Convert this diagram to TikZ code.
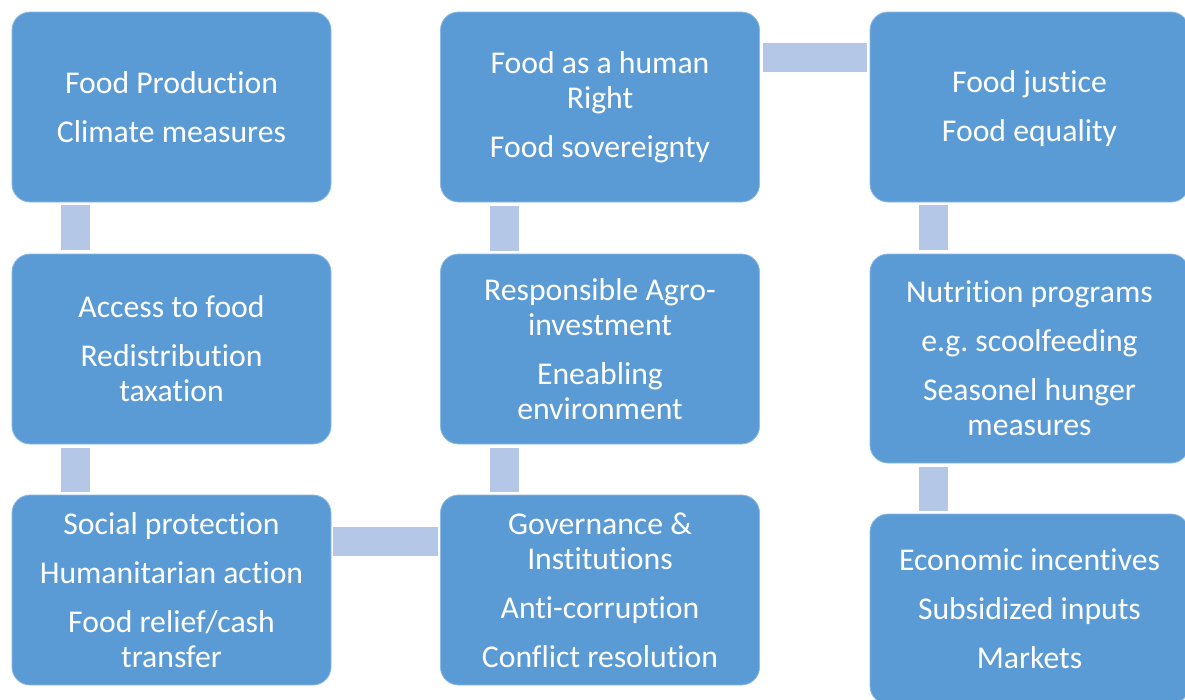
\documentclass[tikz,border=0pt]{standalone}
\usepackage{fontspec}
\setmainfont{Carlito}[Ligatures=NoCommon]
\frenchspacing
\definecolor{boxblue}{HTML}{5B9BD5}
\definecolor{connblue}{HTML}{B4C7E7}
\begin{document}
\begin{tikzpicture}[x=1pt,y=-1pt,
  box/.style={rectangle, rounded corners=18pt, fill=boxblue, draw=boxblue!70!white, line width=0.8pt,
    minimum width=319pt, minimum height=190pt, inner sep=0pt, align=center, text=white,
    font=\fontsize{31.7}{35}\selectfont},
  conn/.style={draw=connblue, line width=29pt}]
\useasboundingbox (0,0) rectangle (1185,699);
\clip (0,0) rectangle (1185,699);
\fill[white] (0,0) rectangle (1185,699);
% left column
\node[box] (l1) at (171.5,107) {Food Production\\[14pt]Climate measures};
\node[box] (l2) at (171.5,349) {Access to food\\[14pt]Redistribution\\taxation};
\node[box] (l3) at (171.5,590) {Social protection\\[14pt]Humanitarian action\\[14pt]Food relief/cash\\transfer};
% middle column
\node[box] (m1) at (600,107) {Food as a human\\Right\\[14pt]Food sovereignty};
\node[box] (m2) at (600,349) {Responsible Agro-\\investment\\[14pt]Eneabling\\environment};
\node[box] (m3) at (600,590) {Governance \&\\Institutions\\[14pt]Anti-corruption\\[14pt]Conflict resolution};
% right column
\node[box] (r1) at (1029.5,107) {\strut Food justice\\[14pt]Food equality};
\node[box, minimum height=209pt] (r2) at (1029.5,358.5) {Nutrition programs\\[14pt]e.g. scoolfeeding\\[14pt]Seasonel hunger\\measures};
\node[box] (r3) at (1029.5,609) {Economic incentives\\[14pt]Subsidized inputs\\[14pt]Markets};
% connectors
\draw[conn, shorten <=3pt, shorten >=4pt] ([xshift=64pt]l1.south west) -- ([xshift=64pt]l2.north west);
\draw[conn, shorten <=4pt, shorten >=3pt] ([xshift=64pt]l2.south west) -- ([xshift=64pt]l3.north west);
\draw[conn, shorten <=3pt, shorten >=4pt] ([xshift=64pt]m2.north west) -- ([xshift=64pt]m1.south west);
\draw[conn, shorten <=3pt, shorten >=4pt] ([xshift=64pt]m3.north west) -- ([xshift=64pt]m2.south west);
\draw[conn, shorten <=3pt, shorten >=4pt] ([xshift=64pt]r1.south west) -- ([xshift=64pt]r2.north west);
\draw[conn, shorten <=4pt, shorten >=3pt] ([xshift=64pt]r2.south west) -- ([xshift=64pt]r3.north west);
\draw[conn, shorten <=3pt, shorten >=3pt] ([yshift=-45.5pt]m1.north east) -- ([yshift=-45.5pt]r1.north west);
\draw[conn, shorten <=2pt, shorten >=2pt] ([yshift=-46.5pt]l3.north east) -- ([yshift=-46.5pt]m3.north west);
\end{tikzpicture}
\end{document}
